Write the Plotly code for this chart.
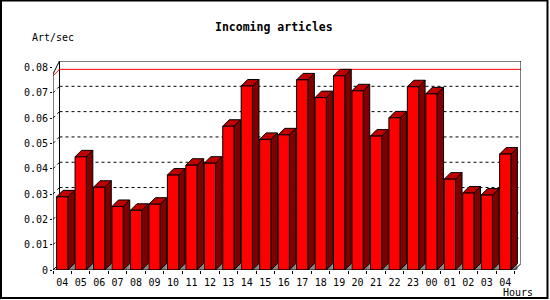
import plotly.graph_objects as go

hours = ["04", "05", "06", "07", "08", "09", "10", "11", "12", "13", "14", "15", "16",
         "17", "18", "19", "20", "21", "22", "23", "00", "01", "02", "03", "04"]
values = [0.0289, 0.0447, 0.0327, 0.0251, 0.0236, 0.0260, 0.0375, 0.0414, 0.0422,
          0.0568, 0.0727, 0.0516, 0.0534, 0.0751, 0.0681, 0.0767, 0.0708, 0.0529,
          0.0601, 0.0724, 0.0696, 0.0359, 0.0304, 0.0296, 0.0458]
y_ticks = [0, 0.01, 0.02, 0.03, 0.04, 0.05, 0.06, 0.07, 0.08]
y_tick_text = ["0", "0.01", "0.02", "0.03", "0.04", "0.05", "0.06", "0.07", "0.08"]
title_text = "Incoming articles"
y_title = "Art/sec"
x_title = "Hours"

# geometry (pixels)
W_PX, H_PX = 550, 300
L, T = 53, 61
PW, PH = 468, 209
R = W_PX - L - PW
B = H_PX - T - PH
DEPTH = 6.5  # px of 3D depth

n = len(values)
ymax = 0.08
dx = 0.353
x_lo, x_hi = -0.5, n - 0.5 + dx
ppx = PW / (x_hi - x_lo)
dx = DEPTH / ppx
x_hi = n - 0.5 + dx
dy = DEPTH * ymax / (PH - DEPTH)
y_hi = ymax + dy

bw = 0.61
half = bw / 2

def px2paper_x(px):
    return (px - L) / PW

def px2paper_y(py):
    return (T + PH - py) / PH

fig = go.Figure()

# red max line
m = max(values)
fig.add_trace(go.Scatter(x=[x_lo, x_lo + dx, x_hi], y=[m, m + dy, m + dy], mode="lines",
                         line=dict(color="#ff0000", width=1), hoverinfo="skip", showlegend=False))

# floor shadows
sx, sy = [], []
for i, v in enumerate(values):
    xr = i + half
    sx += [xr, xr + dx, xr + dx, xr, None]
    sy += [0, 0, dy, 0, None]
fig.add_trace(go.Scatter(x=sx, y=sy, mode="lines", fill="toself", fillcolor="#888888",
                         line=dict(width=0, color="#888888"), hoverinfo="skip", showlegend=False))

# side faces
sx, sy = [], []
for i, v in enumerate(values):
    xr = i + half
    sx += [xr, xr + dx, xr + dx, xr, xr, None]
    sy += [0, dy, v + dy, v, 0, None]
fig.add_trace(go.Scatter(x=sx, y=sy, mode="lines", fill="toself", fillcolor="#800000",
                         line=dict(width=1, color="black"), hoverinfo="skip", showlegend=False))

# top faces
tx, ty = [], []
for i, v in enumerate(values):
    xl, xr = i - half, i + half
    tx += [xl, xl + dx, xr + dx, xr, xl, None]
    ty += [v, v + dy, v + dy, v, v, None]
fig.add_trace(go.Scatter(x=tx, y=ty, mode="lines", fill="toself", fillcolor="#c00000",
                         line=dict(width=1, color="black"), hoverinfo="skip", showlegend=False))

# front faces
fx, fy = [], []
for i, v in enumerate(values):
    xl, xr = i - half, i + half
    fx += [xl, xr, xr, xl, xl, None]
    fy += [0, 0, v, v, 0, None]
fig.add_trace(go.Scatter(x=fx, y=fy, mode="lines", fill="toself", fillcolor="#ff0000",
                         line=dict(width=1, color="black"), hoverinfo="skip", showlegend=False))

shapes = []
# gridlines on back plane + side diagonals
for v in y_ticks[1:-1]:
    shapes.append(dict(type="line", xref="x", yref="y", x0=x_lo + dx, x1=x_hi, y0=v + dy, y1=v + dy,
                       line=dict(color="black", width=1, dash="3px,3px"), layer="below"))
    shapes.append(dict(type="line", xref="x", yref="y", x0=x_lo, x1=x_lo + dx, y0=v, y1=v + dy,
                       line=dict(color="black", width=1, dash="3px,3px"), layer="below"))
# frame
frame = dict(color="black", width=1)
shapes += [
    dict(type="line", xref="x", yref="y", x0=x_lo, x1=x_lo, y0=0, y1=ymax - dy, line=frame),
    dict(type="line", xref="x", yref="y", x0=x_lo, x1=x_lo + dx, y0=ymax - dy, y1=y_hi, line=frame),
    dict(type="line", xref="x", yref="y", x0=x_lo + dx, x1=x_lo + dx, y0=dy, y1=y_hi, line=frame, layer="below"),
    dict(type="line", xref="x", yref="y", x0=x_lo + dx, x1=x_hi, y0=y_hi, y1=y_hi, line=frame),
    dict(type="line", xref="x", yref="y", x0=x_hi, x1=x_hi, y0=dy, y1=y_hi, line=frame),
    dict(type="line", xref="x", yref="y", x0=n - 0.5, x1=x_hi, y0=0, y1=dy, line=frame),
    dict(type="line", xref="x", yref="y", x0=x_lo, x1=n - 0.5, y0=0, y1=0, line=frame),
    dict(type="line", xref="x", yref="y", x0=x_lo, x1=x_lo + dx, y0=0, y1=dy, line=frame, layer="below"),
]
# outer border
shapes.append(dict(type="rect", xref="paper", yref="paper",
                   x0=px2paper_x(1), x1=px2paper_x(547.5), y0=px2paper_y(298), y1=px2paper_y(0.5),
                   line=dict(color="black", width=2), fillcolor="rgba(0,0,0,0)"))

font_mono = "DejaVu Sans Mono"
annotations = [
    dict(text="<b>" + title_text + "</b>", xref="paper", yref="paper", x=px2paper_x(274), y=px2paper_y(27),
         xanchor="center", yanchor="middle", showarrow=False, font=dict(family=font_mono, size=11.5, color="black")),
    dict(text=y_title, xref="paper", yref="paper", x=px2paper_x(30), y=px2paper_y(37),
         xanchor="left", yanchor="middle", showarrow=False, font=dict(family=font_mono, size=10, color="black")),
    dict(text=x_title, xref="paper", yref="paper", x=px2paper_x(535), y=px2paper_y(292),
         xanchor="right", yanchor="middle", showarrow=False, font=dict(family=font_mono, size=10, color="black")),
]

fig.update_layout(
    width=W_PX, height=H_PX,
    margin=dict(l=L, r=R, t=T, b=B, pad=0),
    paper_bgcolor="white", plot_bgcolor="white",
    showlegend=False,
    shapes=shapes, annotations=annotations,
    xaxis=dict(range=[x_lo, x_hi], tickmode="array", tickvals=list(range(n)), ticktext=hours,
               showgrid=False, zeroline=False, showline=False, ticks="outside", ticklen=0.01,
               tickcolor="white", ticklabelstandoff=3,
               minor=dict(tickmode="array", tickvals=[i - 0.5 for i in range(n + 1)],
                          ticks="outside", ticklen=3, tickcolor="black", showgrid=False),
               tickfont=dict(family=font_mono, size=10, color="black")),
    yaxis=dict(range=[0, y_hi], tickmode="array", tickvals=y_ticks, ticktext=y_tick_text,
               showgrid=False, zeroline=False, showline=False, ticks="outside", ticklen=2,
               tickcolor="black", tickfont=dict(family=font_mono, size=10, color="black")),
)

fig.write_html("out.html")
